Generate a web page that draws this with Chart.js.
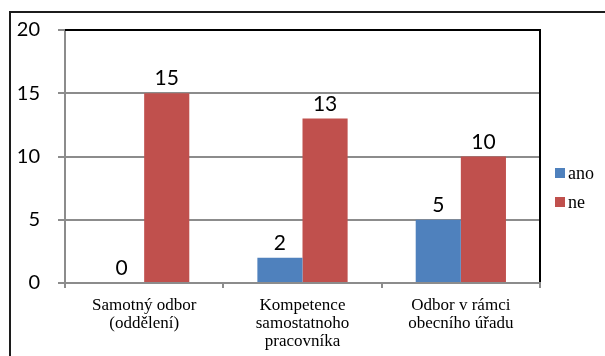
<!DOCTYPE html>
<html>
<head>
<meta charset="utf-8">
<script src="https://cdn.jsdelivr.net/npm/chart.js@4/dist/chart.umd.min.js"></script>
<style>
  html, body { margin: 0; padding: 0; background: #fff; }
  #wrap { position: relative; width: 605px; height: 356px; overflow: hidden; }
  /* document frame around the chart object */
  #frame {
    position: absolute; left: 9px; top: 11px; width: 700px; height: 400px;
    border-left: 2px solid #1c1c1c; border-top: 2px solid #1c1c1c;
  }
  #chart { position: absolute; left: 0; top: 0; }
</style>
</head>
<body>
<div id="wrap">
  <div id="frame"></div>
  <canvas id="chart" width="605" height="356"></canvas>
</div>
<script>
// categories and answers
const categories = [
    ['Samotný odbor', '(oddělení)'],
    ['Kompetence', 'samostatnoho', 'pracovníka'],
    ['Odbor v rámci', 'obecního úřadu']
];
const seriesNames = ['ano', 'ne'];
const anoValues = [0, 2, 5];
const neValues = [15, 13, 10];
const yTicks = [0, 5, 10, 15, 20];

const colors = ['#4F81BD', '#C0504D'];
const axisGray = '#8c8c8c';

// black border on top and right of the plot area
const plotFrame = {
    id: 'plotFrame',
    afterDraw(chart) {
        const { ctx, chartArea: a } = chart;
        ctx.save();
        ctx.strokeStyle = '#000';
        ctx.lineWidth = 2;
        ctx.beginPath();
        ctx.moveTo(a.left, a.top);
        ctx.lineTo(a.right, a.top);
        ctx.lineTo(a.right, a.bottom - 1);
        ctx.stroke();
        ctx.restore();
    }
};

// value labels above the bars
const barLabels = {
    id: 'barLabels',
    afterDatasetsDraw(chart) {
        const ctx = chart.ctx;
        ctx.save();
        ctx.font = '21px Lato';
        ctx.fillStyle = '#000';
        ctx.textAlign = 'center';
        ctx.textBaseline = 'alphabetic';
        chart.data.datasets.forEach((ds, i) => {
            chart.getDatasetMeta(i).data.forEach((bar, j) => {
                ctx.fillText(String(ds.data[j]), bar.x, bar.y - 8);
            });
        });
        ctx.restore();
    }
};

// legend on the right side
const sideLegend = {
    id: 'sideLegend',
    afterDraw(chart) {
        const ctx = chart.ctx;
        const x = chart.chartArea.right + 15;
        ctx.save();
        ctx.font = '18px "Liberation Serif"';
        ctx.textBaseline = 'alphabetic';
        ctx.textAlign = 'left';
        chart.data.datasets.forEach((ds, i) => {
            const cy = 173 + i * 29;
            ctx.fillStyle = ds.backgroundColor;
            ctx.fillRect(x, cy - 5, 10, 10);
            ctx.fillStyle = '#000';
            ctx.fillText(ds.label, x + 13, cy + 6);
        });
        ctx.restore();
    }
};

new Chart(document.getElementById('chart'), {
    type: 'bar',
    data: {
        labels: categories,
        datasets: [
            { label: seriesNames[0], data: anoValues, backgroundColor: colors[0] },
            { label: seriesNames[1], data: neValues, backgroundColor: colors[1] }
        ]
    },
    options: {
        responsive: false,
        animation: false,
        layout: { padding: { left: 0, top: 30, right: 65, bottom: 0 } },
        datasets: { bar: { categoryPercentage: 0.57, barPercentage: 1 } },
        plugins: { legend: { display: false }, tooltip: { enabled: false } },
        scales: {
            x: {
                afterFit(scale) { scale.height = 73; },
                grid: { drawOnChartArea: false, drawTicks: true, tickLength: 5, color: axisGray, lineWidth: 2 },
                border: { color: axisGray, width: 2 },
                ticks: {
                    color: '#000',
                    padding: 8,
                    maxRotation: 0,
                    font: { family: '"Liberation Serif"', size: 17, lineHeight: 1.08 }
                }
            },
            y: {
                min: yTicks[0],
                max: yTicks[yTicks.length - 1],
                afterFit(scale) { scale.width = 65; },
                afterBuildTicks(scale) { scale.ticks = yTicks.map(v => ({ value: v })); },
                grid: { color: axisGray, lineWidth: 2, tickLength: 7 },
                border: { color: axisGray, width: 2 },
                ticks: {
                    color: '#000',
                    padding: 18,
                    font: { family: 'Lato', size: 20 }
                }
            }
        }
    },
    plugins: [plotFrame, barLabels, sideLegend]
});
</script>
</body>
</html>
